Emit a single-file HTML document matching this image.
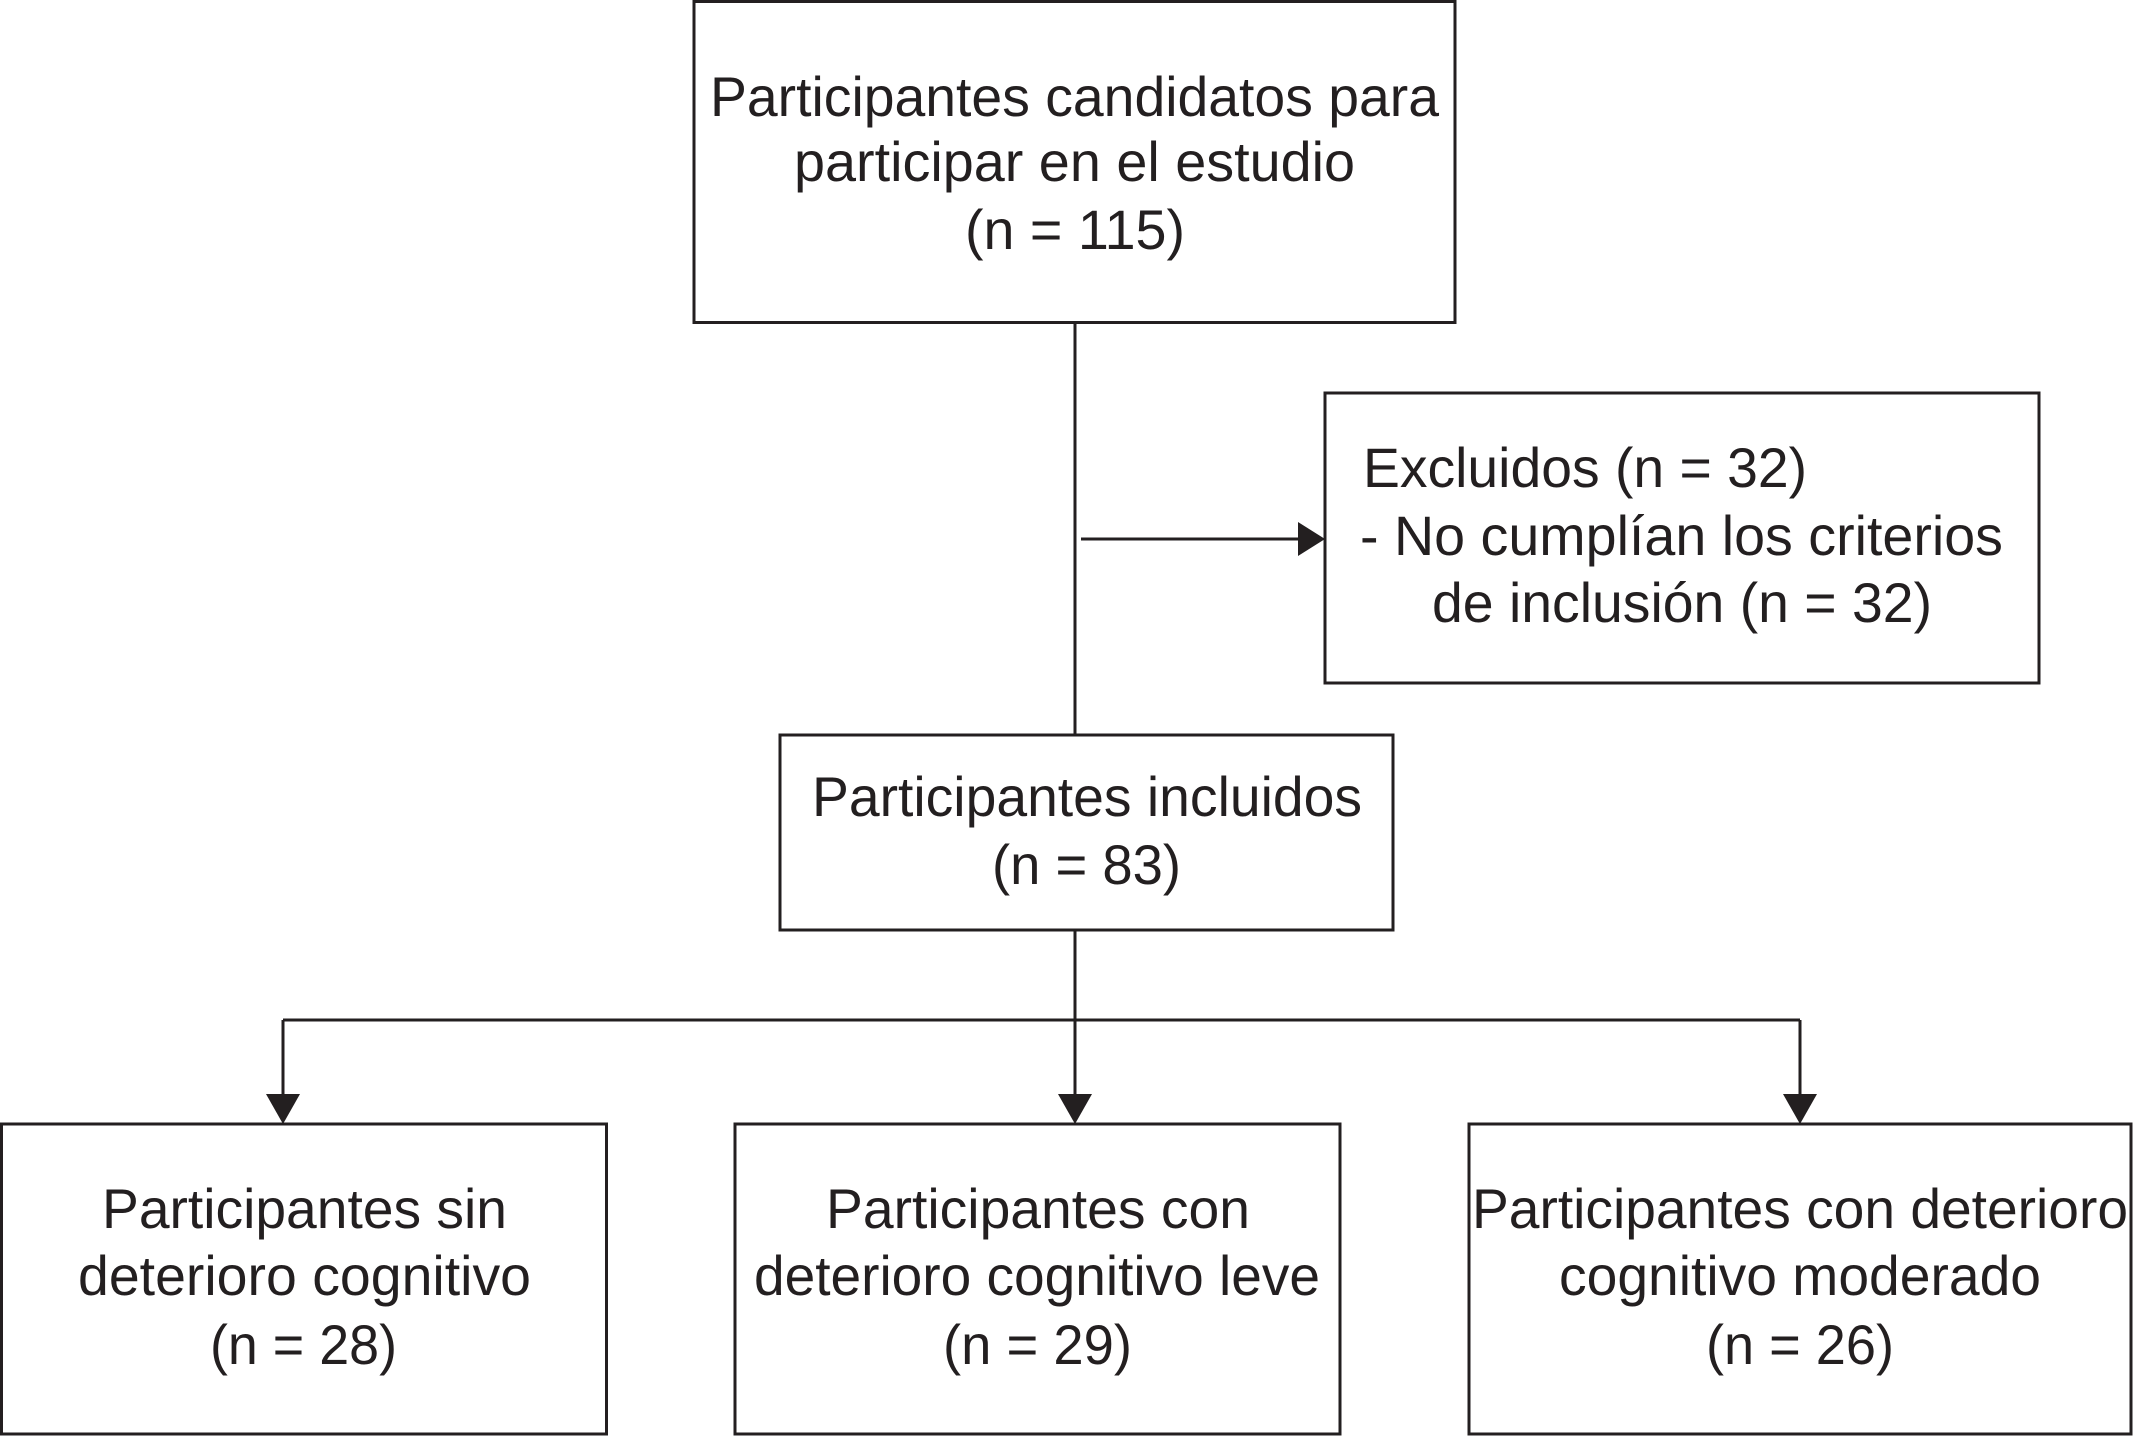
<!DOCTYPE html>
<html><head><meta charset="utf-8"><style>
html,body{margin:0;padding:0;background:#fff;}
svg{display:block;}
text{font-family:"Liberation Sans",sans-serif;font-size:56px;fill:#231f20;}
</style></head><body>
<svg width="2133" height="1436" viewBox="0 0 2133 1436" xmlns="http://www.w3.org/2000/svg">
<g fill="none" stroke="#231f20" stroke-width="3">
<rect x="694" y="1.5" width="761" height="321"/>
<rect x="1325" y="393" width="714" height="290"/>
<rect x="780" y="735" width="613" height="195"/>
<rect x="1.5" y="1124" width="605" height="310"/>
<rect x="735" y="1124" width="605" height="310"/>
<rect x="1469" y="1124" width="662" height="310"/>
<line x1="1075" y1="323" x2="1075" y2="735"/>
<line x1="1081" y1="539" x2="1298" y2="539"/>
<line x1="1075" y1="930" x2="1075" y2="1096"/>
<line x1="283" y1="1020" x2="1800" y2="1020"/>
<line x1="283" y1="1020" x2="283" y2="1096"/>
<line x1="1800" y1="1020" x2="1800" y2="1096"/>
</g>
<g fill="#231f20">
<polygon points="1298,522 1325,539 1298,556"/>
<polygon points="266,1094 300,1094 283,1124"/>
<polygon points="1058,1094 1092,1094 1075,1124"/>
<polygon points="1783,1094 1817,1094 1800,1124"/>
</g>
<g lengthAdjust="spacingAndGlyphs">
<text x="710" y="116" textLength="729" lengthAdjust="spacingAndGlyphs">Participantes candidatos para</text>
<text x="794" y="181" textLength="561" lengthAdjust="spacingAndGlyphs">participar en el estudio</text>
<text x="965" y="249" textLength="220" lengthAdjust="spacingAndGlyphs">(n = 115)</text>
<text x="1363" y="487" textLength="444" lengthAdjust="spacingAndGlyphs">Excluidos (n = 32)</text>
<text x="1360" y="555" textLength="643" lengthAdjust="spacingAndGlyphs">- No cumplían los criterios</text>
<text x="1432" y="622" textLength="500" lengthAdjust="spacingAndGlyphs">de inclusión (n = 32)</text>
<text x="812" y="816" textLength="550" lengthAdjust="spacingAndGlyphs">Participantes incluidos</text>
<text x="992" y="884" textLength="189" lengthAdjust="spacingAndGlyphs">(n = 83)</text>
<text x="102" y="1228" textLength="405" lengthAdjust="spacingAndGlyphs">Participantes sin</text>
<text x="78" y="1295" textLength="453" lengthAdjust="spacingAndGlyphs">deterioro cognitivo</text>
<text x="210" y="1364" textLength="187" lengthAdjust="spacingAndGlyphs">(n = 28)</text>
<text x="826" y="1228" textLength="424" lengthAdjust="spacingAndGlyphs">Participantes con</text>
<text x="754" y="1295" textLength="566" lengthAdjust="spacingAndGlyphs">deterioro cognitivo leve</text>
<text x="943" y="1364" textLength="189" lengthAdjust="spacingAndGlyphs">(n = 29)</text>
<text x="1472" y="1228" textLength="656" lengthAdjust="spacingAndGlyphs">Participantes con deterioro</text>
<text x="1559" y="1295" textLength="482" lengthAdjust="spacingAndGlyphs">cognitivo moderado</text>
<text x="1706" y="1364" textLength="188" lengthAdjust="spacingAndGlyphs">(n = 26)</text>
</g>
</svg>
</body></html>
